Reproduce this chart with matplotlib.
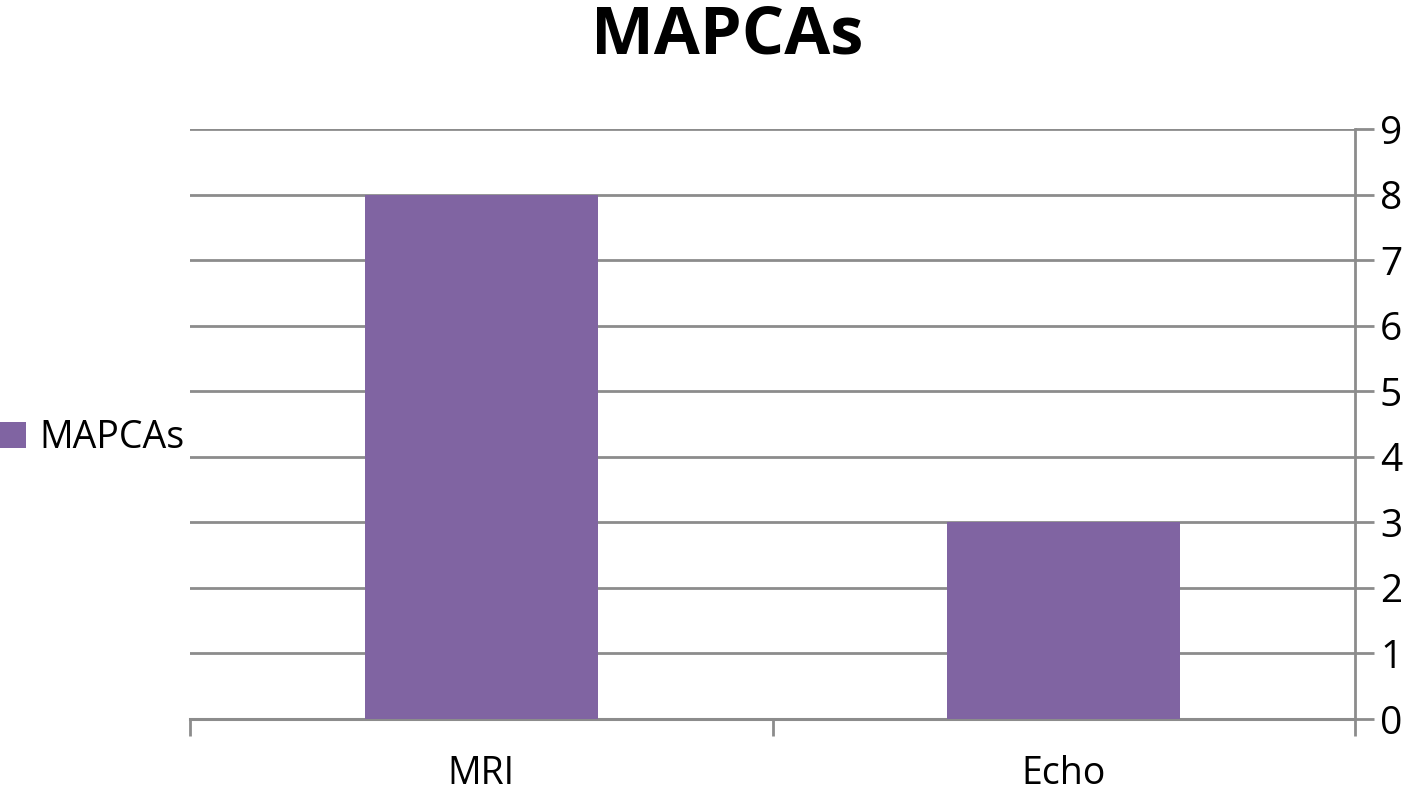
import matplotlib
matplotlib.use("Agg")
import matplotlib.pyplot as plt

categories = ["MRI", "Echo"]
values = [8, 3]
series_name = "MAPCAs"
yticks = list(range(0, 10))

plt.rcParams['font.family'] = ['Open Sans', 'DejaVu Sans']

fig = plt.figure(figsize=(14.18, 7.91), dpi=100)
ax = fig.add_axes([190/1418, 1-719/791, (1355-190)/1418, (719-129)/791])

grid_c = '#8c8c8c'
bars = ax.bar(range(len(categories)), values, width=0.4, color='#8064A2', label=series_name, zorder=3)
ax.set_xlim(-0.5, len(categories)-0.5)
ax.set_ylim(0, 9)
ax.set_yticks(yticks)
ax.yaxis.tick_right()
ax.yaxis.set_label_position('right')
ax.tick_params(axis='y', which='both', length=14, width=2, color=grid_c, labelsize=28, pad=4, labelcolor='black')
ax.grid(axis='y', color=grid_c, linewidth=2, zorder=0)
ax.set_axisbelow(True)

# category labels at centers, ticks at boundaries
ax.set_xticks(range(len(categories)))
ax.set_xticklabels(categories, fontsize=27)
ax.set_xticks([b - 0.5 for b in range(len(categories)+1)], minor=True)
ax.tick_params(axis='x', which='major', length=0, pad=26)
ax.tick_params(axis='x', which='minor', length=12, width=2, color=grid_c)

for s in ['top', 'left']:
    ax.spines[s].set_visible(False)
ax.spines['bottom'].set_color(grid_c)
ax.spines['bottom'].set_linewidth(2.2)
ax.spines['right'].set_color(grid_c)
ax.spines['right'].set_linewidth(2)

fig.text(727/1418, 1-36/791, series_name, ha='center', va='center', fontsize=48, fontweight='bold')

fig.legend(handles=[bars], labels=[series_name], loc='center left', bbox_to_anchor=(0.0, 1-438/791),
           frameon=False, fontsize=27, handlelength=0.7, handleheight=0.7, handletextpad=0.35,
           borderpad=0, borderaxespad=0)

fig.savefig('out.png', dpi=100)
